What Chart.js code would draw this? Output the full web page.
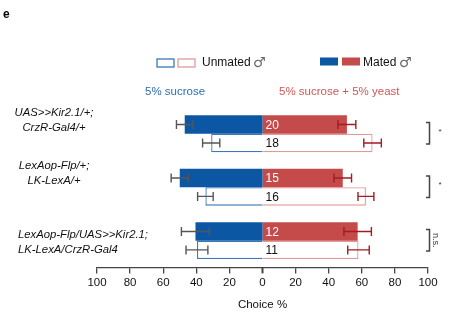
<!DOCTYPE html>
<html>
<head>
<meta charset="utf-8">
<script src="https://cdn.jsdelivr.net/npm/chart.js@4"></script>
<style>
  html, body { margin: 0; padding: 0; background: #fff; }
  #wrap { width: 454px; height: 322px; position: relative; }
</style>
</head>
<body>
<div id="wrap"><canvas id="chart" width="454" height="322"></canvas></div>
<script>
const groups = ["g1", "g2", "g3"];
const groupLabels = [
  ["UAS>>Kir2.1/+;", "CrzR-Gal4/+"],
  ["LexAop-Flp/+;", "LK-LexA/+"],
  ["LexAop-Flp/UAS>>Kir2.1;", "LK-LexA/CrzR-Gal4"],
];
const matedSucrose = [47, 50, 40.5];
const matedSucroseErr = [5, 5.2, 8.5];
const matedYeast = [51, 48.5, 57.5];
const matedYeastErr = [5.4, 5.3, 8.3];
const unmatedSucrose = [31, 34.5, 39.6];
const unmatedSucroseErr = [5.2, 4.7, 6.6];
const unmatedYeast = [66.5, 62.5, 58];
const unmatedYeastErr = [5.3, 4.8, 6.5];
const matedN = [20, 15, 12];
const unmatedN = [18, 16, 11];
const significance = ["*", "*", "n.s."];
const xTicks = [-100, -80, -60, -40, -20, 0, 20, 40, 60, 80, 100];

const BLUE = "#0b57a4";
const RED = "#c54b4b";
const BLUE_LINE = "#3c78b6";
const RED_LINE = "#e09a9a";
const GREY_ERR = "#555555";
const RED_ERR = "#a31b25";
const AXIS = "#444444";
const FONT = "Arial, 'Liberation Sans', sans-serif";

const extras = {
  id: "extras",
  afterDatasetsDraw(chart) {
    const ctx = chart.ctx;
    const x = chart.scales.x;
    const zero = x.getPixelForValue(0);
    const errSets = [
      [0, matedSucrose, matedSucroseErr, -1, GREY_ERR],
      [1, matedYeast, matedYeastErr, 1, RED_ERR],
      [2, unmatedSucrose, unmatedSucroseErr, -1, GREY_ERR],
      [3, unmatedYeast, unmatedYeastErr, 1, RED_ERR],
    ];
    ctx.save();
    ctx.lineWidth = 1.4;
    for (const [di, vals, errs, sign, color] of errSets) {
      const meta = chart.getDatasetMeta(di);
      ctx.strokeStyle = color;
      vals.forEach((v, i) => {
        const y = meta.data[i].y;
        const x1 = x.getPixelForValue(sign * (v - errs[i]));
        const x2 = x.getPixelForValue(sign * (v + errs[i]));
        ctx.beginPath();
        ctx.moveTo(x1, y); ctx.lineTo(x2, y);
        ctx.moveTo(x1, y - 4.5); ctx.lineTo(x1, y + 4.5);
        ctx.moveTo(x2, y - 4.5); ctx.lineTo(x2, y + 4.5);
        ctx.stroke();
      });
    }
    // n labels
    ctx.font = "12px " + FONT;
    ctx.textAlign = "left";
    ctx.textBaseline = "middle";
    const m0 = chart.getDatasetMeta(1);
    const m1 = chart.getDatasetMeta(3);
    matedN.forEach((n, i) => {
      ctx.fillStyle = "#ffffff";
      ctx.fillText(String(n), zero + 3, m0.data[i].y + 1);
      ctx.fillStyle = "#111111";
      ctx.fillText(String(unmatedN[i]), zero + 3, m1.data[i].y + 1);
    });

    // thicker tick mark at 0 (kept off the grid so bars meet at zero)
    const bottom = chart.chartArea.bottom;
    ctx.strokeStyle = AXIS;
    ctx.lineWidth = 2;
    ctx.beginPath();
    ctx.moveTo(zero, bottom);
    ctx.lineTo(zero, bottom + 6);
    ctx.stroke();
    ctx.restore();
  },
  afterDraw(chart) {
    const ctx = chart.ctx;
    const mMeta = chart.getDatasetMeta(0);
    const uMeta = chart.getDatasetMeta(2);
    ctx.save();

    // panel letter
    ctx.fillStyle = "#000";
    ctx.font = "bold 12px " + FONT;
    ctx.textBaseline = "middle";
    ctx.textAlign = "left";
    ctx.fillText("e", 3, 15);

    // legend
    ctx.lineWidth = 1.3;
    ctx.strokeStyle = BLUE_LINE;
    ctx.strokeRect(157, 59, 17, 8);
    ctx.strokeStyle = RED_LINE;
    ctx.strokeRect(178, 59, 17, 8);
    ctx.fillStyle = BLUE;
    ctx.fillRect(320, 57.5, 18, 8);
    ctx.fillStyle = RED;
    ctx.fillRect(342, 57.5, 18, 8);
    ctx.fillStyle = "#111";
    ctx.font = "12px " + FONT;
    ctx.fillText("Unmated", 202, 63);
    ctx.fillText("Mated", 363, 63);
    ctx.fillStyle = "#666";
    ctx.font = "14px 'DejaVu Sans', sans-serif";
    ctx.fillText("\u2642", 253, 63);
    ctx.fillText("\u2642", 399, 63);

    ctx.font = "11.5px " + FONT;
    ctx.fillStyle = "#2f6db2";
    ctx.fillText("5% sucrose", 145, 92);
    ctx.fillStyle = "#d05656";
    ctx.fillText("5% sucrose + 5% yeast", 279, 92);

    // group labels
    ctx.fillStyle = "#111";
    ctx.font = "italic 11.3px " + FONT;
    groupLabels.forEach((lines, i) => {
      const yTop = mMeta.data[i].y;
      const yBot = uMeta.data[i].y;
      if (i < 2) {
        ctx.textAlign = "center";
        ctx.fillText(lines[0], 54, yTop - 12);
        ctx.fillText(lines[1], 54, yTop + 3);
      } else {
        ctx.textAlign = "left";
        ctx.fillText(lines[0], 18, yTop + 3);
        ctx.fillText(lines[1], 18, yBot);
      }
    });

    // significance brackets
    ctx.strokeStyle = AXIS;
    ctx.lineWidth = 1.5;
    significance.forEach((s, i) => {
      const y1 = mMeta.data[i].y - 2;
      const y2 = uMeta.data[i].y + 1;
      ctx.beginPath();
      ctx.moveTo(426, y1); ctx.lineTo(429.5, y1);
      ctx.lineTo(429.5, y2); ctx.lineTo(426, y2);
      ctx.stroke();
      ctx.fillStyle = "#333";
      if (s === "n.s.") {
        ctx.save();
        ctx.translate(435, (y1 + y2) / 2);
        ctx.rotate(Math.PI / 2);
        ctx.textAlign = "center";
        ctx.textBaseline = "middle";
        ctx.font = "9px " + FONT;
        ctx.fillText(s, 0, 0);
        ctx.restore();
      } else {
        ctx.textAlign = "center";
        ctx.font = "8px " + FONT;
        ctx.fillText(s, 440, y1 + 9);
      }
    });
    ctx.restore();
  },
};

new Chart(document.getElementById("chart"), {
  type: "bar",
  data: {
    labels: groups,
    datasets: [
      { label: "Mated sucrose", data: matedSucrose.map((v) => -v), stack: "mated", backgroundColor: BLUE, borderWidth: 0 },
      { label: "Mated yeast", data: matedYeast, stack: "mated", backgroundColor: RED, borderWidth: 0 },
      { label: "Unmated sucrose", data: unmatedSucrose.map((v) => -v), stack: "unmated", backgroundColor: "#fff", borderColor: BLUE_LINE, borderWidth: 1.3 },
      { label: "Unmated yeast", data: unmatedYeast, stack: "unmated", backgroundColor: "#fff", borderColor: RED_LINE, borderWidth: 1.3 },
    ],
  },
  options: {
    indexAxis: "y",
    responsive: false,
    animation: false,
    devicePixelRatio: 1,
    layout: { padding: { left: 97, right: 26, top: 107, bottom: 8 } },
    datasets: { bar: { categoryPercentage: 0.69, barPercentage: 1 } },
    plugins: { legend: { display: false }, tooltip: { enabled: false } },
    scales: {
      y: { display: false, stacked: true },
      x: {
        stacked: true,
        min: -100,
        max: 100,
        afterBuildTicks: (axis) => { axis.ticks = xTicks.map((v) => ({ value: v })); },
        ticks: {
          color: "#111",
          font: { family: FONT, size: 11.5 },
          padding: 3,
          maxRotation: 0,
          callback: (v) => String(Math.abs(v)),
        },
        grid: {
          display: true,
          drawOnChartArea: false,
          drawTicks: true,
          tickLength: 6,
          color: AXIS,
          lineWidth: (c) => (c.tick && c.tick.value === 0 ? 0 : 1.3),
        },
        border: { display: true, color: AXIS, width: 1.3 },
        title: {
          display: true,
          text: "Choice %",
          color: "#111",
          font: { family: FONT, size: 11.5 },
          padding: { top: 5, bottom: 2 },
        },
      },
    },
  },
  plugins: [extras],
});
</script>
</body>
</html>
